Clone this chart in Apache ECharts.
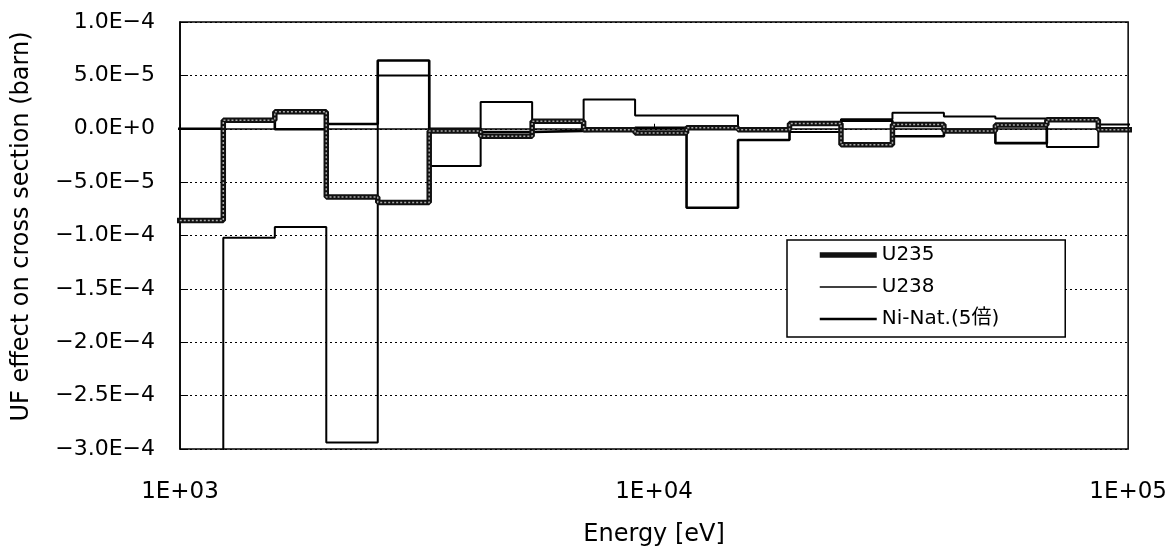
<!DOCTYPE html>
<html>
<head>
<meta charset="utf-8">
<title>UF effect</title>
<script src="https://cdn.jsdelivr.net/npm/echarts@6/dist/echarts.min.js"></script>
<style>
	html, body { margin: 0; padding: 0; background: #fff; }
	#main-chart { width: 1170px; height: 552px; }
</style>
</head>
<body>
<div id="main-chart"></div>
<script>
// 群境界エネルギー (eV)
var groupBounds = [961, 1234, 1585, 2035, 2613, 3355, 4307, 5531, 7102, 9119,
	11709, 15034, 19305, 24788, 31828, 40868, 52475, 67379, 86517, 111090];

// 各群の値 (barn)
var u235 = [-8.6e-5, 0.8e-5, 1.6e-5, -6.4e-5, -6.9e-5, -0.2e-5, -0.7e-5, 0.7e-5, -0.1e-5, -0.4e-5,
	0.1e-5, -0.1e-5, 0.5e-5, -1.5e-5, 0.4e-5, -0.2e-5, 0.35e-5, 0.85e-5, -0.1e-5];
var u238 = [-36e-5, -10.2e-5, -9.2e-5, -29.4e-5, 5.0e-5, -3.5e-5, 2.5e-5, 0.75e-5, 2.75e-5, 1.25e-5,
	1.25e-5, 0.0, -0.3e-5, 0.9e-5, 1.5e-5, 1.15e-5, 0.95e-5, -1.7e-5, 0.4e-5];
var niNat = [0.0, 0.8e-5, -0.05e-5, 0.45e-5, 6.4e-5, 0.0, -0.3e-5, -0.2e-5, -0.1e-5, 0.1e-5,
	-7.4e-5, -1.05e-5, 0.4e-5, 0.75e-5, -0.7e-5, -0.2e-5, -1.35e-5, 0.85e-5, 0.0];

var seriesNames = ['U235', 'U238', 'Ni-Nat.(5倍)'];
var xTickLabels = {1000: '1E+03', 10000: '1E+04', 100000: '1E+05'};

var MINUS = '\u2212';
var FONT = 'DejaVu Sans, Noto Sans CJK JP, sans-serif';

// 階段状の点列
function stepData(values){
	var data = [];
	for(var i = 0; i < values.length; i++){
		data.push([groupBounds[i], values[i]]);
	}
	data.push([groupBounds[values.length], values[values.length - 1]]);
	return data;
}

function expLabel(value){
	if(Math.abs(value) < 1e-12){
		return '0.0E+0';
	}
	var a = Math.abs(value);
	var e = Math.floor(Math.log10(a) + 1e-9);
	var m = (a / Math.pow(10, e)).toFixed(1);
	if(m == '10.0'){ e += 1; m = '1.0'; }
	return (value < 0 ? MINUS : '') + m + 'E' + (e < 0 ? MINUS : '+') + Math.abs(e);
}

var myChart = echarts.init(document.getElementById('main-chart'));

var option = {
	backgroundColor: '#fff',
	animation: false,
	grid: {
		left: 180,
		right: 41,
		top: 22,
		bottom: 103,
		show: true,
		borderColor: '#000',
		borderWidth: 1.5
	},
	legend: {
		data: [
			{ name: seriesNames[0], lineStyle: { width: 5.5, color: '#111' } },
			{ name: seriesNames[1], lineStyle: { width: 1.5, color: '#000' } },
			{ name: seriesNames[2], lineStyle: { width: 2.6, color: '#000' } }
		],
		orient: 'vertical',
		left: 787,
		top: 240,
		backgroundColor: '#fff',
		borderColor: '#000',
		borderWidth: 1.5,
		borderRadius: 0,
		padding: [5, 66, 8, 30],
		itemWidth: 57,
		itemHeight: 14,
		itemGap: 12,
		itemStyle: { opacity: 0 },
		textStyle: {
			color: '#000',
			fontSize: 20,
			fontFamily: FONT
		}
	},
	xAxis: {
		type: 'log',
		logBase: 10,
		min: 1000,
		max: 100000,
		name: 'Energy [eV]',
		nameLocation: 'middle',
		nameGap: 74,
		nameTextStyle: { color: '#000', fontSize: 24, fontFamily: FONT },
		axisLine: { lineStyle: { color: '#000', width: 1.5 } },
		axisTick: { inside: true, length: 5, lineStyle: { color: '#000' } },
		axisLabel: {
			color: '#000',
			fontSize: 23,
			fontFamily: FONT,
			margin: 32,
			formatter: function(v){
				return xTickLabels[Math.round(v)] || '';
			}
		},
		splitLine: { show: false }
	},
	yAxis: {
		type: 'value',
		min: -3e-4,
		max: 1e-4,
		interval: 5e-5,
		name: 'UF effect on cross section (barn)',
		nameLocation: 'middle',
		nameGap: 146,
		nameTextStyle: { color: '#000', fontSize: 24, fontFamily: FONT, padding: [0, 0, 0, 18] },
		axisLine: { show: true, lineStyle: { color: '#000', width: 1.5 } },
		axisTick: { show: true, inside: true, length: 8, lineStyle: { color: '#000' } },
		axisLabel: {
			color: '#000',
			fontSize: 22,
			fontFamily: FONT,
			margin: 25,
			formatter: expLabel
		},
		splitLine: { lineStyle: { color: '#000', type: [2, 3], width: 1 } }
	},
	series: [
		{
			name: 'U238',
			type: 'line',
			step: 'end',
			symbol: 'none',
			data: stepData(u238),
			lineStyle: { color: '#000', width: 2 },
			itemStyle: { color: '#000' }
		},
		{
			name: 'Ni-Nat.(5倍)',
			type: 'line',
			step: 'end',
			symbol: 'none',
			data: stepData(niNat),
			lineStyle: { color: '#000', width: 2.6 },
			itemStyle: { color: '#000' }
		},
		{
			name: 'U235',
			type: 'line',
			step: 'end',
			symbol: 'none',
			data: stepData(u235),
			lineStyle: { color: '#111', width: 5.5 },
			itemStyle: { color: '#111' }
		},
		{
			// U235 の灰色の芯
			name: 'U235-core',
			type: 'line',
			step: 'end',
			symbol: 'none',
			silent: true,
			data: stepData(u235),
			lineStyle: { color: '#aaa', width: 1.5, type: [2, 2] },
			itemStyle: { color: '#aaa' }
		}
	]
};

myChart.setOption(option);
</script>
</body>
</html>
